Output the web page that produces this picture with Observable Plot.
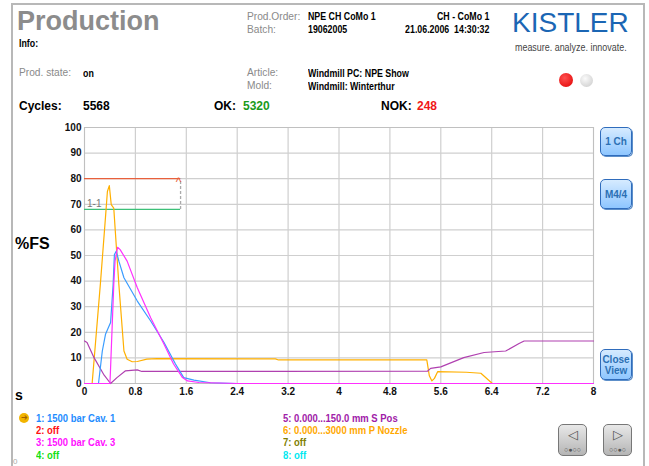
<!DOCTYPE html>
<html><head><meta charset="utf-8">
<script src="https://cdn.jsdelivr.net/npm/d3@7"></script>
<script src="https://cdn.jsdelivr.net/npm/@observablehq/plot@0.6"></script>
<style>
body{margin:0;background:#fff;width:649px;height:466px;overflow:hidden;position:relative;font-family:"Liberation Sans",Arial,sans-serif;}
.a{position:absolute;white-space:nowrap;line-height:1;}
.n{font-weight:bold;font-size:10.5px;transform:scaleX(.84);transform-origin:left center;}
.r{transform-origin:right center;}
.b{font-weight:bold;font-size:12px;}
.g{color:#8a8a8a;font-size:10.2px;}
.lg{font-weight:bold;font-size:11px;transform:scaleX(.86);transform-origin:left center;}
.btn{position:absolute;width:30px;border:1.5px solid #2f6cbc;border-radius:5px;background:linear-gradient(#d6ebff,#8ec6ff);color:#2b70b4;font-weight:bold;font-size:10px;display:flex;align-items:center;justify-content:center;text-align:center;line-height:1.1;box-shadow:1px 1px 0 #5d8fc9;}
.nav{position:absolute;width:29px;height:32px;border:1.5px solid #777;border-radius:5px;background:linear-gradient(#e8e8e8,#b5b5b5);color:#555;text-align:center;font-size:13px;line-height:1;padding-top:3px;box-sizing:border-box;}
</style></head>
<body>
<div id="frame" style="position:absolute;left:11px;top:3px;width:630px;height:470px;border:2px solid #b8b8b8;"></div>
<div class="a" style="left:17px;top:8px;font-size:27px;font-weight:bold;color:#8c8c8c;">Production</div>
<div class="a n" style="left:19px;top:38px;">Info:</div>
<div class="a g" style="left:247px;top:12px;">Prod.Order:</div>
<div class="a g" style="left:247px;top:25px;">Batch:</div>
<div class="a n" style="left:308px;top:11px;">NPE CH CoMo 1</div>
<div class="a n" style="left:308px;top:24px;">19062005</div>
<div class="a n r" style="right:160px;top:11px;">CH - CoMo 1</div>
<div class="a n r" style="right:160px;top:24px;">21.06.2006&nbsp; 14:30:32</div>
<div class="a" style="left:512px;top:9px;font-size:28px;color:#1b66b4;">KISTLER</div>
<div class="a" style="left:515px;top:42px;font-size:10.5px;color:#444;transform:scaleX(.85);transform-origin:left center;">measure. analyze. innovate.</div>
<div class="a g" style="left:19px;top:68px;">Prod. state:</div>
<div class="a n" style="left:83px;top:68px;">on</div>
<div class="a g" style="left:247px;top:68px;">Article:</div>
<div class="a g" style="left:247px;top:81px;">Mold:</div>
<div class="a n" style="left:308px;top:68px;">Windmill PC: NPE Show</div>
<div class="a n" style="left:308px;top:81px;">Windmill: Winterthur</div>
<div class="a" style="left:559px;top:73px;width:14px;height:14px;border-radius:50%;background:radial-gradient(circle at 40% 35%,#ff5050,#e00000);"></div>
<div class="a" style="left:580px;top:74px;width:13px;height:13px;border-radius:50%;background:radial-gradient(circle at 40% 35%,#fafafa,#c8c8c8);"></div>
<div class="a b" style="left:19px;top:100px;">Cycles:</div>
<div class="a b" style="left:83px;top:100px;">5568</div>
<div class="a b" style="left:214px;top:100px;">OK:</div>
<div class="a b" style="left:243px;top:100px;color:#1a9a1a;">5320</div>
<div class="a b" style="left:381px;top:100px;">NOK:</div>
<div class="a b" style="left:417px;top:100px;color:#f01818;">248</div>
<div class="a" style="left:15px;top:236px;font-size:16px;font-weight:bold;">%FS</div>
<div class="a" style="left:15px;top:388px;font-size:14px;font-weight:bold;">s</div>
<div id="chart" style="position:absolute;left:0;top:110px;"></div>
<div class="btn" style="left:600px;top:127px;height:27px;">1 Ch</div>
<div class="btn" style="left:600px;top:179px;height:28px;">M4/4</div>
<div class="btn" style="left:600px;top:349px;height:29px;">Close<br>View</div>
<div id="legend"></div>
<div class="a" style="left:19px;top:413px;width:10px;height:10px;border-radius:50%;background:#f2b400;color:#a06000;font-size:8px;text-align:center;line-height:10px;">➔</div>
<div class="nav" style="left:558px;top:424px;">◁<div style="font-size:7px;margin-top:5px;">○●○○</div></div>
<div class="nav" style="left:603px;top:424px;">▷<div style="font-size:7px;margin-top:5px;">○○●○</div></div>
<div class="a" style="left:13px;top:458px;font-size:8px;color:#aaa;">0</div>
<script>
const xTicks = [0, 0.8, 1.6, 2.4, 3.2, 4, 4.8, 5.6, 6.4, 7.2, 8];
const yTicks = [0, 10, 20, 30, 40, 50, 60, 70, 80, 90, 100];

const cav1Time  = [0, 0.22, 0.28, 0.33, 0.41, 0.45, 0.47, 0.50, 0.54, 0.62, 0.83, 1.04, 1.25, 1.43, 1.56, 1.72, 1.98, 2.4, 8];
const cav1Value = [0, 0, 12.7, 19.2, 23.8, 38.7, 50.4, 51.7, 47.8, 41.3, 32.2, 24.4, 16, 7.6, 2.3, 1.3, 0.3, 0, 0];

const cav3Time  = [0, 0.40, 0.41, 0.46, 0.48, 0.52, 0.56, 0.67, 0.83, 1.04, 1.25, 1.40, 1.54, 1.62, 1.8, 2.4, 8];
const cav3Value = [0, 0, 6.2, 38.7, 47.8, 53.2, 52.3, 47.8, 37.4, 25.7, 15.3, 7.6, 2.3, 1, 0.4, 0, 0];

const sPosTime  = [0, 0.04, 0.15, 0.30, 0.41, 0.51, 0.64, 0.83, 0.9, 3.0, 5.39, 5.44, 5.6, 5.96, 6.28, 6.62, 6.83, 6.91, 8];
const sPosValue = [16.6, 16, 10.1, 3.6, 0, 2.3, 4.9, 5.3, 4.7, 4.7, 4.8, 5.9, 6.5, 10.1, 12.1, 12.7, 15.6, 16.6, 16.6];

const nozzleTime  = [0, 0.12, 0.25, 0.33, 0.36, 0.39, 0.42, 0.46, 0.54, 0.62, 0.67, 0.75, 0.83, 0.98, 1.14, 3.0, 3.05, 5.38, 5.42, 5.46, 5.5, 5.55, 6.0, 6.23, 6.41, 8];
const nozzleValue = [0, 0, 39, 65, 75, 77.3, 69.9, 68.5, 38.7, 12.7, 9.5, 8.5, 8.6, 9.5, 9.7, 9.6, 9.2, 9.2, 3, 1, 2, 4.6, 4.4, 4, 0, 0];

const limitEnd = 1.51;
const upperLimit = 80;
const lowerLimit = 68;
const limitLabel = "1-1";

const legendCol1 = ["1: 1500 bar  Cav. 1", "2: off", "3: 1500 bar  Cav. 3", "4: off"];
const legendCol2 = ["5: 0.000...150.0 mm  S Pos", "6: 0.000...3000 mm  P Nozzle", "7: off", "8: off"];
const colors1 = ["#1e8cff", "#ff1010", "#ff10ff", "#10e010"];
const colors2 = ["#a020a8", "#ffa800", "#808000", "#00e8f0"];

const series = (t, v) => t.map((x, i) => ({x, y: v[i]}));

const plot = Plot.plot({
  width: 649, height: 300,
  marginLeft: 84, marginRight: 56, marginTop: 17, marginBottom: 27,
  x: {domain: [0, 8]},
  y: {domain: [0, 100]},
  style: {fontFamily: "'Liberation Sans', Arial, sans-serif", fontSize: "10px", background: "transparent"},
  marks: [
    Plot.gridX(xTicks, {stroke: "#cfcfcf", strokeOpacity: 1, strokeWidth: 1.2}),
    Plot.gridY(yTicks, {stroke: "#cfcfcf", strokeOpacity: 1, strokeWidth: 1.2}),
    Plot.frame({stroke: "#c0c0c0"}),
    Plot.axisX(xTicks, {tickSize: 0, tickPadding: 4, fontWeight: "bold", fill: "#111", tickFormat: d => String(d), label: null}),
    Plot.axisY(yTicks, {tickSize: 0, tickPadding: 3, fontWeight: "bold", fill: "#111", label: null}),
    Plot.ruleY([upperLimit], {x1: 0, x2: limitEnd, stroke: "#e8603c", strokeWidth: 1.3}),
    Plot.ruleY([lowerLimit], {x1: 0, x2: limitEnd, stroke: "#3cc078", strokeWidth: 1.3}),
    Plot.ruleX([limitEnd], {y1: lowerLimit, y2: upperLimit, stroke: "#aaa", strokeDasharray: "3,2", strokeWidth: 1.3}),
    Plot.text([limitEnd], {x: d => d, y: upperLimit, text: () => "^", fill: "#e8603c", fontSize: 12, dy: 3, dx: -2}),
    Plot.text([limitLabel], {x: 0.04, y: lowerLimit, text: d => d, fill: "#777", fontSize: 10, textAnchor: "start", dy: -6}),
    Plot.line(series(nozzleTime, nozzleValue), {x: "x", y: "y", stroke: "#ffb000", strokeWidth: 1.2}),
    Plot.line(series(sPosTime, sPosValue), {x: "x", y: "y", stroke: "#b040b0", strokeWidth: 1.2}),
    Plot.line(series(cav1Time, cav1Value), {x: "x", y: "y", stroke: "#3a9cff", strokeWidth: 1.2}),
    Plot.line(series(cav3Time, cav3Value), {x: "x", y: "y", stroke: "#ff30ff", strokeWidth: 1.2})
  ]
});
document.getElementById("chart").append(plot);

const leg = document.getElementById("legend");
const addCol = (items, cols, left) => items.forEach((t, i) => {
  const d = document.createElement("div");
  d.className = "a lg";
  d.style.left = left + "px";
  d.style.top = (413 + i * 12.2) + "px";
  d.style.color = cols[i];
  d.textContent = t;
  leg.append(d);
});
addCol(legendCol1, colors1, 36);
addCol(legendCol2, colors2, 283);
</script>
</body></html>
